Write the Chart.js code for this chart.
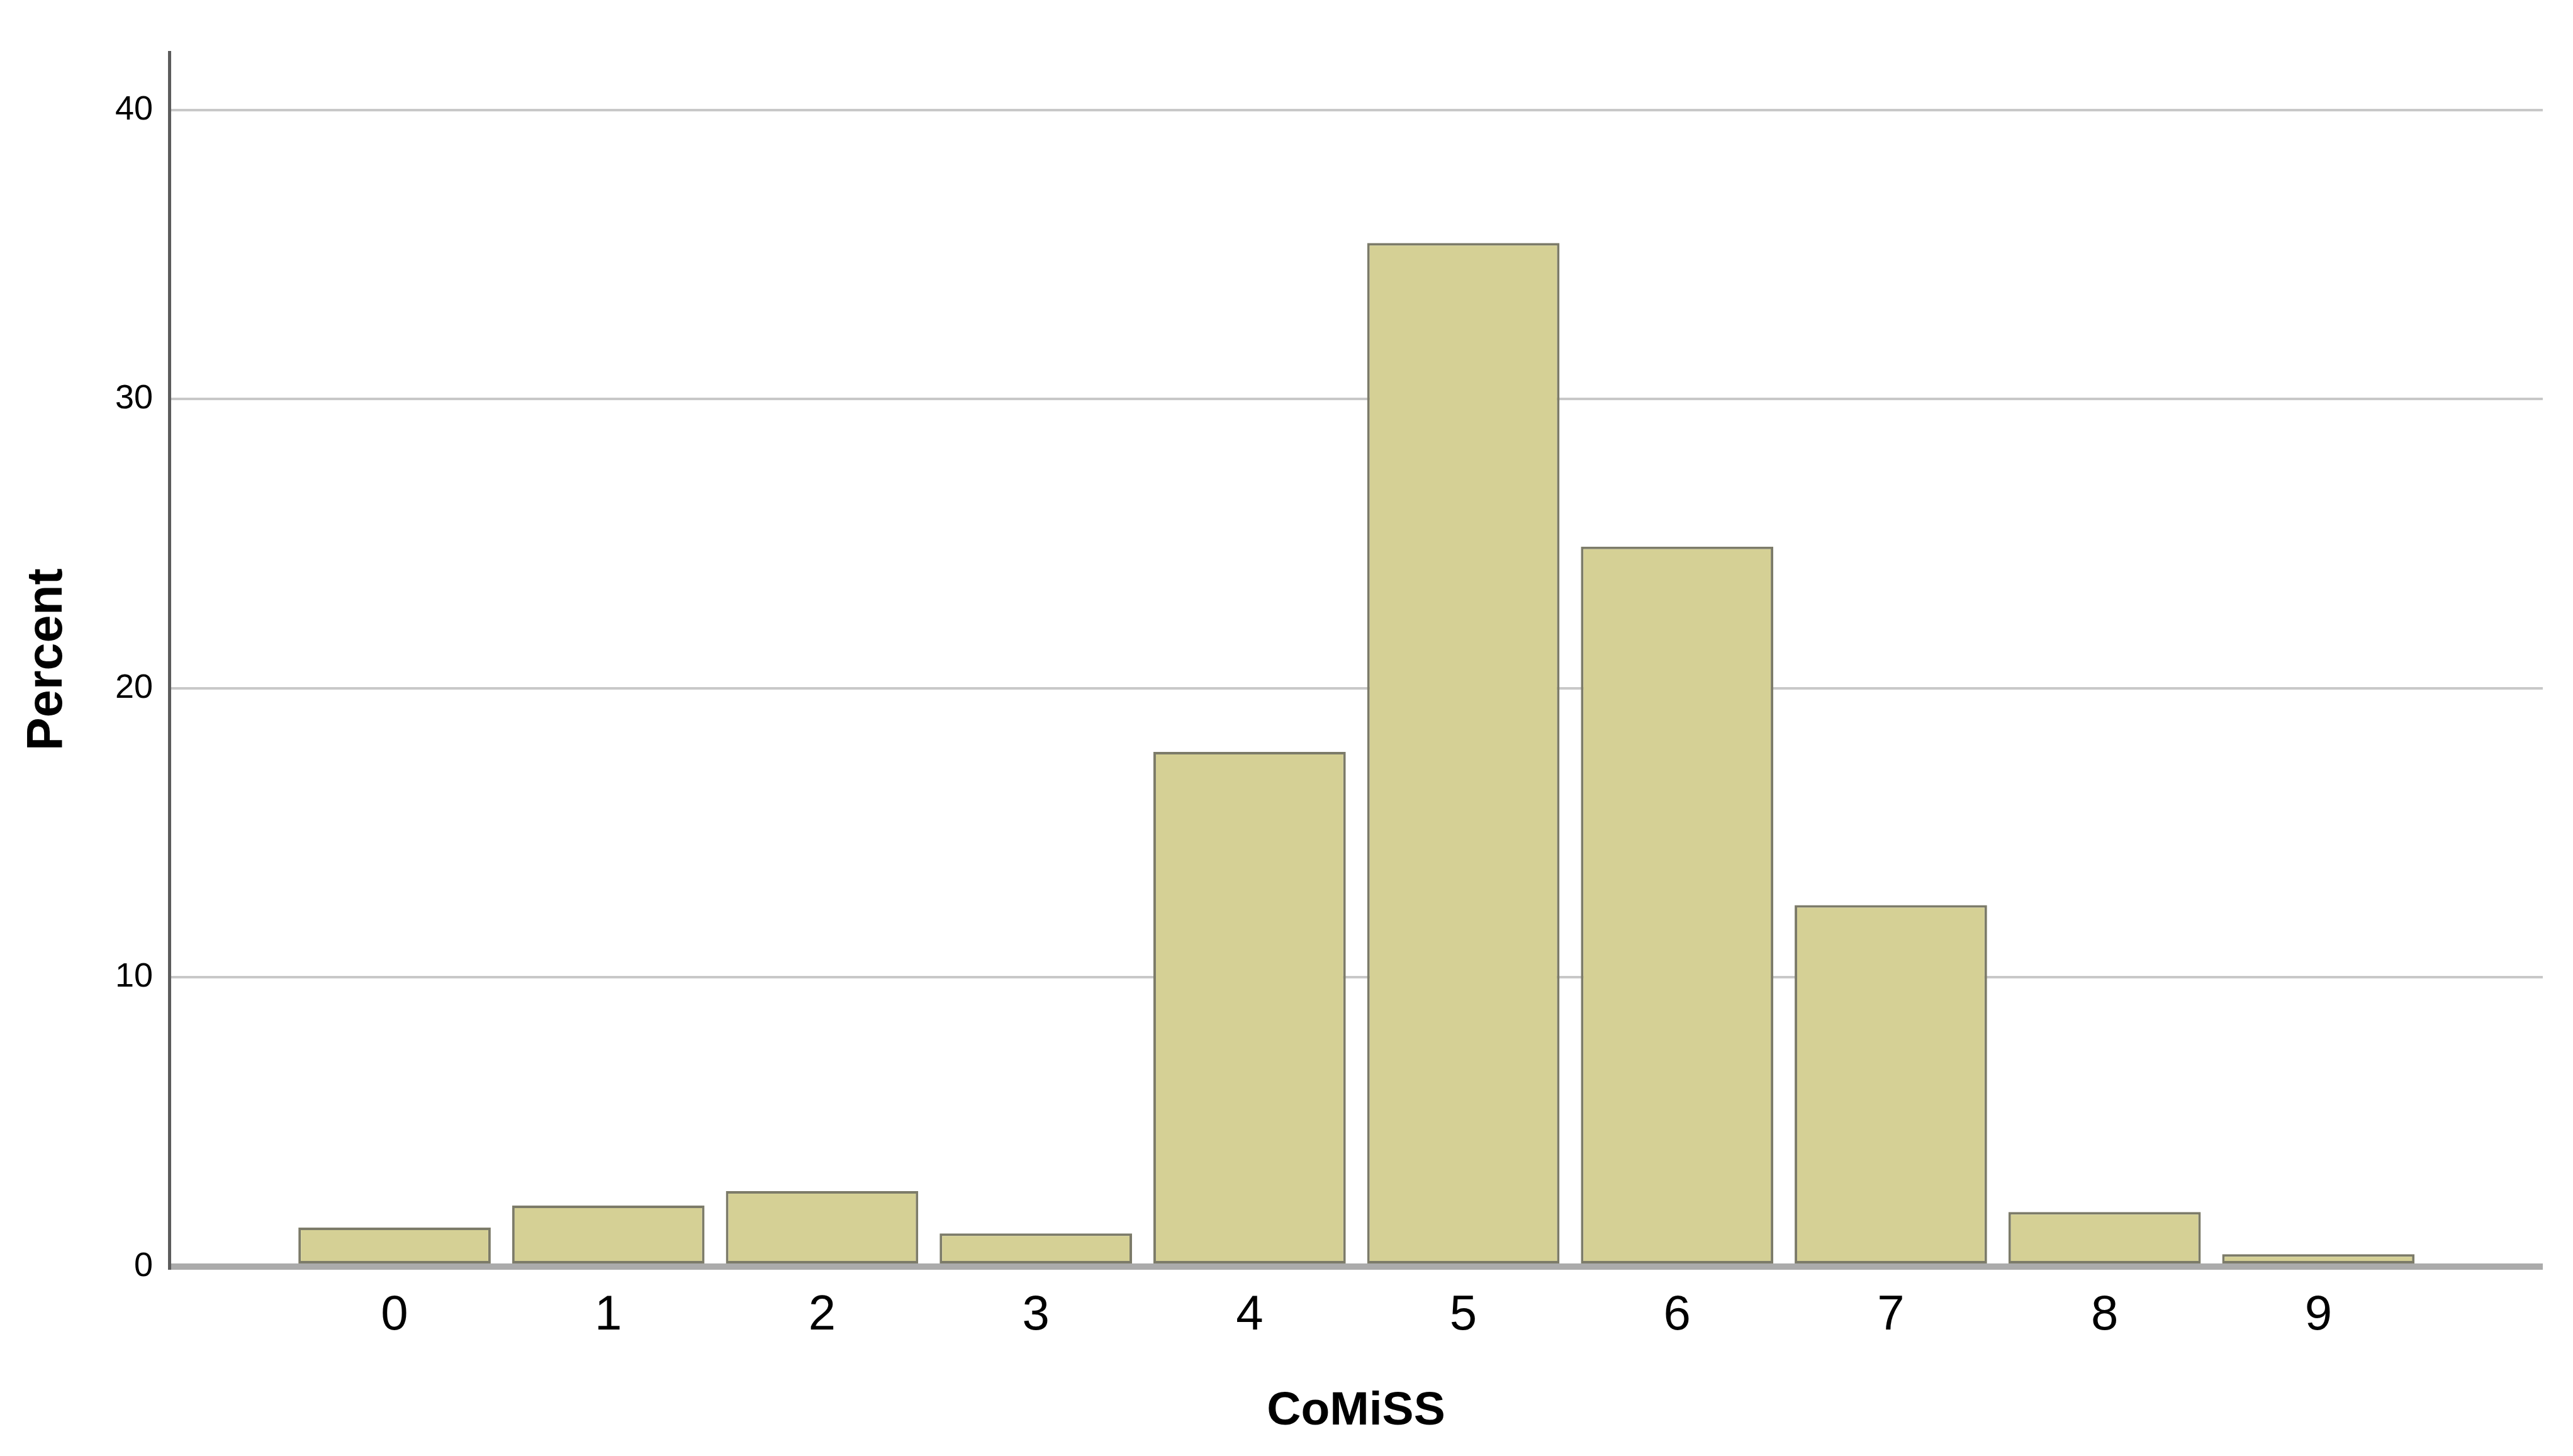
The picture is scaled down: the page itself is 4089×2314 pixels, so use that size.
<!DOCTYPE html>
<html>
<head>
<meta charset="utf-8">
<script src="https://cdn.jsdelivr.net/npm/chart.js@4/dist/chart.umd.min.js"></script>
<style>
  html, body { margin: 0; padding: 0; background: #ffffff; }
  #wrap { width: 4089px; height: 2314px; }
</style>
</head>
<body>
<div id="wrap"><canvas id="c" width="4089" height="2314"></canvas></div>
<script>
// ---- data ----
const categories = [0, 1, 2, 3, 4, 5, 6, 7, 8, 9];
const percents = [1.35, 2.11, 2.61, 1.15, 17.8, 35.4, 24.9, 12.5, 1.89, 0.43];
const yTickValues = [0, 10, 20, 30, 40];
const xTitle = 'CoMiSS';
const yTitle = 'Percent';

const points = categories.map((c, i) => ({ x: c, y: percents[i] }));

new Chart(document.getElementById('c'), {
  type: 'bar',
  data: {
    datasets: [{
      data: points,
      backgroundColor: '#d5d095',
      borderColor: '#7c7b69',
      borderWidth: 4,
      borderSkipped: false,
      categoryPercentage: 0.9,
      barPercentage: 1.0
    }]
  },
  options: {
    responsive: false,
    devicePixelRatio: 1,
    animation: false,
    layout: { padding: { top: 83, right: 48, bottom: 0, left: 0 } },
    plugins: { legend: { display: false }, tooltip: { enabled: false } },
    scales: {
      x: {
        type: 'linear',
        offset: false,
        min: -1.054,
        max: 10.05,
        grid: { display: false, drawTicks: false },
        border: { display: false },
        afterBuildTicks: (s) => { s.ticks = categories.map(v => ({ value: v })); },
        afterFit: (s) => { s.height = 301; },
        ticks: {
          autoSkip: false,
          maxRotation: 0,
          padding: 39,
          color: '#000000',
          font: { family: 'Liberation Sans', size: 78, lineHeight: 1 },
          callback: (v) => String(v)
        },
        title: {
          display: true,
          text: xTitle,
          color: '#000000',
          padding: { top: 0, bottom: 33 },
          font: { family: 'Liberation Sans', size: 75, weight: 'bold', lineHeight: 1 }
        }
      },
      y: {
        min: 0,
        max: 42,
        afterBuildTicks: (s) => { s.ticks = yTickValues.map(v => ({ value: v })); },
        afterFit: (s) => { s.width = 269; },
        grid: {
          drawTicks: false,
          color: (ctx) => (ctx.tick && ctx.tick.value === 0) ? '#ababab' : '#c8c8c8',
          lineWidth: (ctx) => (ctx.tick && ctx.tick.value === 0) ? 10 : 4
        },
        border: { display: true, color: '#5c5c5c', width: 5 },
        ticks: {
          padding: 26,
          color: '#000000',
          font: { family: 'Liberation Sans', size: 54, lineHeight: 1 }
        },
        title: {
          display: true,
          text: yTitle,
          color: '#000000',
          padding: { top: 37, bottom: 0 },
          font: { family: 'Liberation Sans', size: 79, weight: 'bold', lineHeight: 1 }
        }
      }
    }
  }
});
</script>
</body>
</html>
